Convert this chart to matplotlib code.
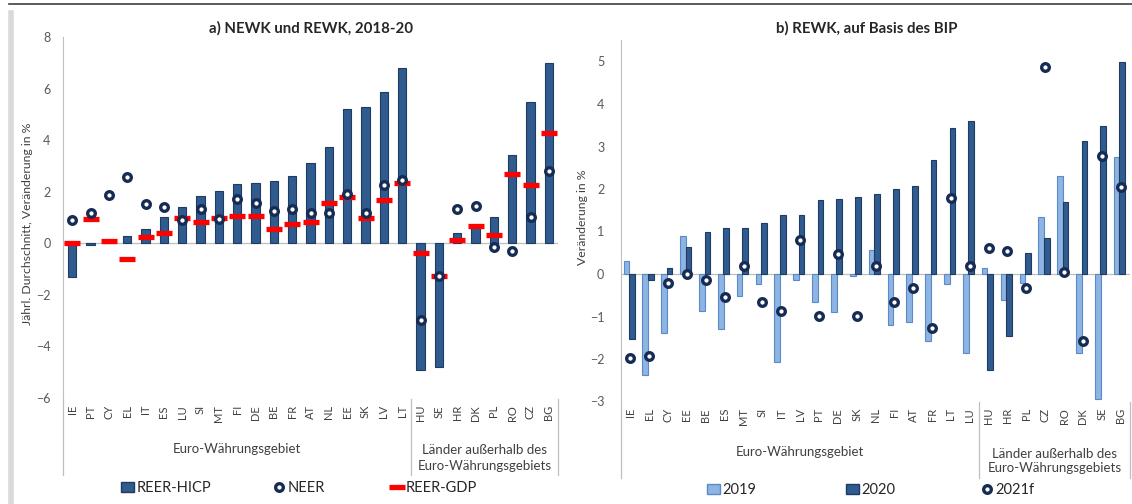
import matplotlib.pyplot as plt
import matplotlib.transforms as mtransforms
from matplotlib.lines import Line2D
from matplotlib.patches import Patch
import numpy as np

plt.rcParams['font.family'] = ['Lato', 'DejaVu Sans']

# a) NEWK und REWK, 2018-20
left_countries = ["IE", "PT", "CY", "EL", "IT", "ES", "LU", "SI", "MT", "FI", "DE", "BE", "FR",
                  "AT", "NL", "EE", "SK", "LV", "LT", "HU", "SE", "HR", "DK", "PL", "RO", "CZ", "BG"]
reer_hicp = [-1.3, -0.05, 0.0, 0.28, 0.54, 1.03, 1.42, 1.85, 2.04, 2.3, 2.35, 2.42, 2.61,
             3.1, 3.75, 5.2, 5.3, 5.87, 6.8, -4.92, -4.79, 0.41, 0.7, 1.03, 3.41, 5.48, 6.98]
neer = [0.9, 1.16, 1.87, 2.58, 1.52, 1.42, 0.9, 1.33, 0.94, 1.72, 1.55, 1.27, 1.33,
        1.16, 1.16, 1.9, 1.16, 2.26, 2.45, -2.98, -1.28, 1.33, 1.46, -0.13, -0.28, 1.03, 2.82]
reer_gdp = [0.0, 0.94, 0.08, -0.62, 0.26, 0.39, 0.97, 0.83, 1.0, 1.07, 1.07, 0.57, 0.75,
            0.81, 1.58, 1.8, 1.0, 1.68, 2.33, -0.38, -1.25, 0.13, 0.68, 0.32, 2.69, 2.25, 4.26]
left_n_euro = 19

# b) REWK, auf Basis des BIP
right_countries = ["IE", "EL", "CY", "EE", "BE", "ES", "MT", "SI", "IT", "LV", "PT", "DE", "SK",
                   "NL", "FI", "AT", "FR", "LT", "LU", "HU", "HR", "PL", "CZ", "RO", "DK", "SE", "BG"]
y2019 = [0.3, -2.38, -1.38, 0.9, -0.86, -1.3, -0.52, -0.24, -2.06, -0.13, -0.67, -0.89, -0.05,
         0.57, -1.2, -1.12, -1.57, -0.24, -1.85, 0.15, -0.6, -0.2, 1.33, 2.31, -1.85, -2.95, 2.76]
y2020 = [-1.54, -0.13, 0.13, 0.64, 0.98, 1.09, 1.09, 1.21, 1.39, 1.39, 1.74, 1.77, 1.82,
         1.88, 2.0, 2.08, 2.68, 3.44, 3.6, -2.26, -1.47, 0.49, 0.84, 1.7, 3.14, 3.48, 5.0]
y2021f = [-1.98, -1.93, -0.2, 0.0, -0.14, -0.53, 0.19, -0.67, -0.87, 0.8, -0.99, 0.46, -0.99,
          0.2, -0.67, -0.34, -1.28, 1.78, 0.2, 0.62, 0.55, -0.34, 4.86, 0.04, -1.57, 2.78, 2.05]
right_n_euro = 19

group_euro = "Euro-Währungsgebiet"
group_other = "Länder außerhalb des\nEuro-Währungsgebiets"

W, H = 1132, 504
DARK = "#2f5b8f"
DARK_EDGE = "#1f3b62"
LIGHT = "#8db4e2"
LIGHT_EDGE = "#5b8bc6"
RING = "#172c55"
GRID = "#bfbfbf"
TXT = "#404040"


def fy(px):
	# pixel row -> figure fraction
	return 1 - px / H


def style_axis(ax, ylim, yticks, pad):
	ax.set_ylim(*ylim)
	ax.set_yticks(yticks)
	ax.set_xlim(-0.5, 26.5)
	ax.set_xticks([])
	for s in ["top", "right", "bottom"]:
		ax.spines[s].set_visible(False)
	ax.spines["left"].set_color(GRID)
	ax.tick_params(axis="y", length=0, pad=pad, labelsize=9, labelcolor="#595959")
	ax.axhline(0, color=GRID, lw=0.9, zorder=1)


def categories(ax, names, n_euro, lab_top, grp_y, line_bot):
	# multi level category axis below the plot
	trans = mtransforms.blended_transform_factory(ax.transData, fig.transFigure)
	for i, name in enumerate(names):
		ax.text(i, fy(lab_top), name, rotation=90, ha="center", va="top", fontsize=8,
				color=TXT, transform=trans)
	ax.text((n_euro - 1) / 2.0, fy(grp_y), group_euro, ha="center", va="center",
			fontsize=9.5, color=TXT, transform=trans)
	ax.text((n_euro + len(names) - 1) / 2.0, fy(grp_y + 9), group_other, ha="center",
			va="center", fontsize=9.5, color=TXT, transform=trans, linespacing=1.3)
	for xs in [-0.5, n_euro - 0.5, len(names) - 0.5]:
		ax.plot([xs, xs], [fy(lab_top - 6), fy(line_bot)], color=GRID, lw=0.9,
				transform=trans, clip_on=False)


fig = plt.figure(figsize=(W / 100.0, H / 100.0), dpi=100)

# frame bits
fig.add_artist(Line2D([9 / W, 1.0], [fy(4), fy(4)], color="#404040", lw=1.2))
fig.add_artist(Line2D([10.5 / W, 10.5 / W], [fy(13), 0], color="#d9d9d9", lw=4))

# left panel
axl = fig.add_axes([63 / W, fy(398), (558 - 63) / W, (398 - 37) / H])
style_axis(axl, (-6, 8), np.arange(-6, 9, 2), 9)
xl = np.arange(len(left_countries))
axl.bar(xl, reer_hicp, width=0.45, color=DARK, edgecolor=DARK_EDGE, lw=0.8, zorder=2)
axl.plot(xl, reer_gdp, ls="none", marker="_", ms=11.5, mew=3.8, color="#ff0000", zorder=3)
axl.plot(xl, neer, ls="none", marker="o", ms=5.5, mew=2.4, mfc="white", mec=RING, zorder=4)
categories(axl, left_countries, left_n_euro, 405, 449, 475)
fig.text(311 / W, fy(28), "a) NEWK und REWK, 2018-20", ha="center", va="center",
		 fontsize=10.8, fontweight="bold", color="#262626")
fig.text(28 / W, fy(224), "Jährl. Durchschnitt, Veränderung in %", rotation=90,
		 ha="center", va="center", fontsize=8.8, color=TXT)

h_hicp = Patch(facecolor=DARK, edgecolor=DARK_EDGE, label="REER-HICP")
h_neer = Line2D([], [], ls="none", marker="o", ms=5.5, mew=2.4, mfc="white", mec=RING, label="NEER")
h_gdp = Line2D([], [], ls="none", marker="_", ms=11.5, mew=3.8, color="#ff0000", label="REER-GDP")
leg_kw = dict(loc="center left", frameon=False, fontsize=10.5, handlelength=0.9,
			  handletextpad=0.15, borderpad=0, borderaxespad=0)
for h, x in [(h_hicp, 121), (h_neer, 272), (h_gdp, 390)]:
	fig.legend(handles=[h], bbox_to_anchor=(x / W, fy(488)), labelcolor="#262626", **leg_kw)

# right panel
axr = fig.add_axes([621 / W, fy(401.5), (1130 - 621) / W, (401.5 - 40.25) / H])
style_axis(axr, (-3, 5.5), np.arange(-3, 6, 1), 12)
xr = np.arange(len(right_countries))
axr.bar(xr - 0.21, y2019, width=0.3, color=LIGHT, edgecolor=LIGHT_EDGE, lw=0.8, zorder=2)
axr.bar(xr + 0.08, y2020, width=0.3, color=DARK, edgecolor=DARK_EDGE, lw=0.8, zorder=2)
axr.plot(xr, y2021f, ls="none", marker="o", ms=5.5, mew=2.4, mfc="white", mec=RING, zorder=4)
categories(axr, right_countries, right_n_euro, 408, 452, 478)
fig.text(867 / W, fy(28), "b) REWK, auf Basis des BIP", ha="center", va="center",
		 fontsize=10.8, fontweight="bold", color="#262626")
fig.text(582 / W, fy(217), "Veränderung in %", rotation=90,
		 ha="center", va="center", fontsize=8.8, color=TXT)

h19 = Patch(facecolor=LIGHT, edgecolor=LIGHT_EDGE, label="2019")
h20 = Patch(facecolor=DARK, edgecolor=DARK_EDGE, label="2020")
h21 = Line2D([], [], ls="none", marker="o", ms=5.5, mew=2.4, mfc="white", mec=RING, label="2021f")
for h, x in [(h19, 707), (h20, 846), (h21, 980)]:
	fig.legend(handles=[h], bbox_to_anchor=(x / W, fy(490)), labelcolor="#262626", **leg_kw)

plt.savefig("out.png", dpi=100)
plt.close(fig)
